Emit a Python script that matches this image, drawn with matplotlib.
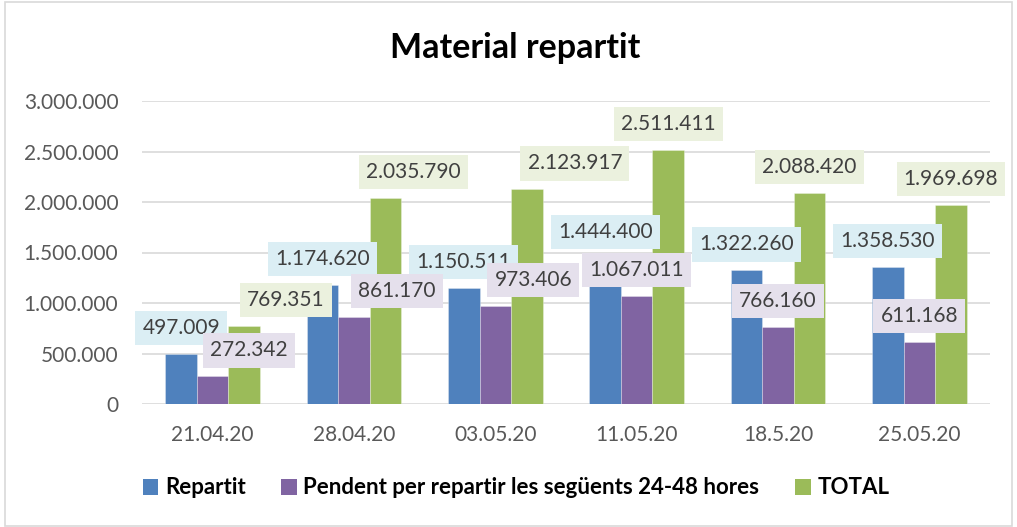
import matplotlib
matplotlib.use("Agg")
import matplotlib.pyplot as plt
from matplotlib.patches import Rectangle, Patch
from matplotlib.ticker import FuncFormatter, MultipleLocator
import numpy as np

# ---- data ----
categories = ["21.04.20", "28.04.20", "03.05.20", "11.05.20", "18.5.20", "25.05.20"]
repartit = [497009, 1174620, 1150511, 1444400, 1322260, 1358530]
pendent = [272342, 861170, 973406, 1067011, 766160, 611168]
total = [769351, 2035790, 2123917, 2511411, 2088420, 1969698]
series_names = ["Repartit", "Pendent per repartir les següents 24-48 hores", "TOTAL"]
title = "Material repartit"

# ---- style ----
bar_colors = ["#4F81BD", "#8064A2", "#9BBB59"]
label_bg = ["#DBEEF4", "#E5E0EC", "#EBF1DE"]
# manual horizontal nudges of the data labels (pixels), per series
label_dx = [
    [0, 0, 0, 0, 0, 0],
    [36, 43, 38, 0, 0, 0],
    [42, 28, 48, 0, 0, 0],
]

W, H, DPI = 1017, 527, 100
plt.rcParams["font.family"] = ["Lato", "DejaVu Sans"]

fig = plt.figure(figsize=(W / DPI, H / DPI), dpi=DPI)
fig.patch.set_facecolor("white")

# outer chart border
fig.patches.append(Rectangle((5 / W, 1 - 526 / H), (1012 - 5) / W, (526 - 2) / H,
                             transform=fig.transFigure, fill=False,
                             edgecolor="#D9D9D9", linewidth=1.2, zorder=0))

ax = fig.add_axes([142 / W, 1 - 404 / H, (990 - 142) / W, (404 - 101) / H])
x = np.arange(len(categories))
bw = 0.223
all_series = [repartit, pendent, total]
offsets = [-bw, 0, bw]
for i, vals in enumerate(all_series):
    ax.bar(x + offsets[i], vals, width=bw, color=bar_colors[i],
           edgecolor=(1, 1, 1, 0.35), linewidth=0.6, zorder=3)

fmt = lambda v: f"{int(round(v)):,}".replace(",", ".")

for i, vals in enumerate(all_series):
    for j, v in enumerate(vals):
        ax.annotate(fmt(v), xy=(x[j] + offsets[i], v),
                    xytext=(label_dx[i][j], 26), textcoords="offset pixels",
                    ha="center", va="center", fontsize=15, color="#404040",
                    bbox=dict(boxstyle="square,pad=0.34", facecolor=label_bg[i],
                              edgecolor="none"),
                    zorder=5 + i, annotation_clip=False)

ax.set_xlim(-0.5, len(categories) - 0.5)
ax.set_ylim(0, 3000000)
ax.yaxis.set_major_locator(MultipleLocator(500000))
ax.yaxis.set_major_formatter(FuncFormatter(lambda v, p: fmt(v)))
ax.set_xticks(x)
ax.set_xticklabels(categories)
ax.tick_params(axis="both", length=0, labelsize=15, labelcolor="#595959")
ax.tick_params(axis="y", pad=17)
ax.tick_params(axis="x", pad=15)
for s in ax.spines.values():
    s.set_visible(False)
ax.grid(axis="y", color="#D9D9D9", linewidth=1.2, zorder=0)
ax.set_axisbelow(True)

fig.text(515 / W, 1 - 58 / H, title, ha="center", va="baseline",
         fontsize=24.5, fontweight="bold", color="black")

handles = [Patch(facecolor=c, edgecolor="none") for c in bar_colors]
leg = fig.legend(handles, series_names, loc="center", ncol=3,
                 bbox_to_anchor=(516 / W, 1 - 488 / H), frameon=False,
                 prop=dict(size=16, weight="bold"), handlelength=0.7,
                 handleheight=0.7, handletextpad=0.3, columnspacing=1.6)
for t in leg.get_texts():
    t.set_color("black")

fig.savefig("out.png", dpi=DPI, facecolor="white")
